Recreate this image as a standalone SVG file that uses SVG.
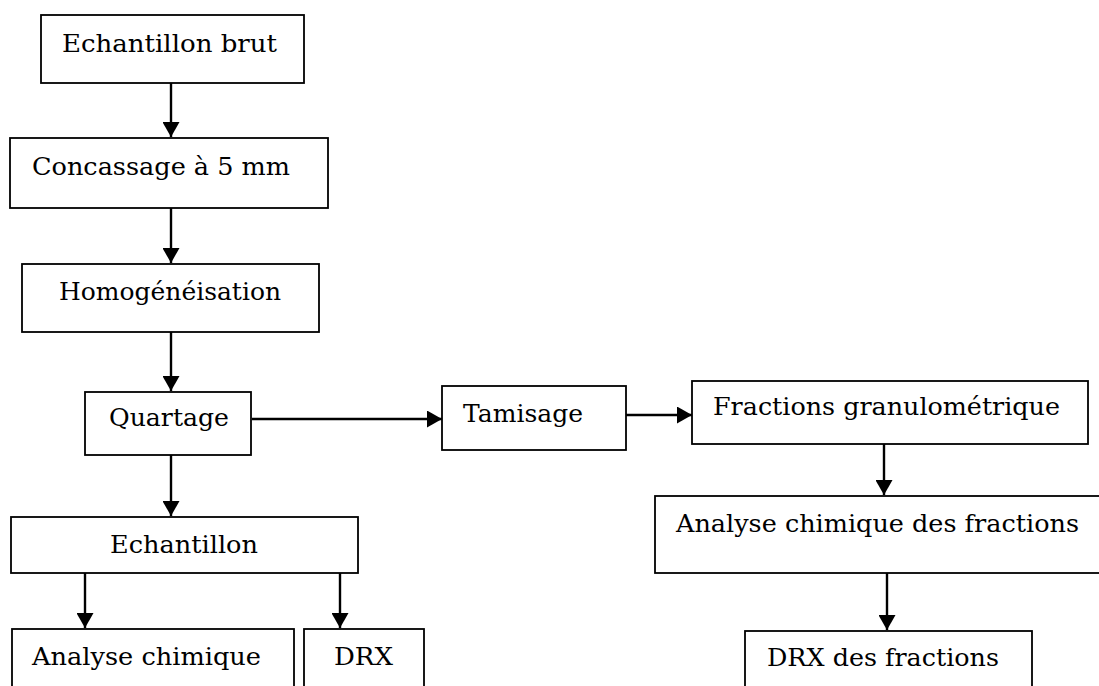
<svg xmlns="http://www.w3.org/2000/svg" width="1099" height="686" viewBox="0 0 1099 686">
<style>
.box{fill:#fff;stroke:#000;stroke-width:1.8}
.lbl{font-family:"DejaVu Serif","Liberation Serif",serif;font-size:25px;fill:#000}
.con{stroke:#000;stroke-width:2.4;fill:none;marker-end:url(#ah)}
</style>
<defs>
<marker id="ah" markerUnits="userSpaceOnUse" markerWidth="17" markerHeight="17" refX="15" refY="8.5" orient="auto">
<path d="M0,0 L15,8.5 L0,17 Z" fill="#000"/>
</marker>
</defs>
<rect width="1099" height="686" fill="#fff"/>
<g id="connectors">
<line class="con" x1="171" y1="83" x2="171" y2="137"/>
<line class="con" x1="171" y1="208" x2="171" y2="263"/>
<line class="con" x1="171" y1="332" x2="171" y2="391"/>
<line class="con" x1="171" y1="455" x2="171" y2="516"/>
<line class="con" x1="85" y1="573" x2="85" y2="628"/>
<line class="con" x1="340" y1="573" x2="340" y2="628"/>
<line class="con" x1="252" y1="419" x2="442" y2="419"/>
<line class="con" x1="626" y1="415" x2="692" y2="415"/>
<line class="con" x1="884" y1="444" x2="884" y2="495"/>
<line class="con" x1="887" y1="573" x2="887" y2="630"/>
</g>
<g id="n1"><rect class="box" x="41" y="15" width="263" height="68"/><text class="lbl" x="62" y="52" textLength="215" lengthAdjust="spacingAndGlyphs">Echantillon brut</text></g>
<g id="n2"><rect class="box" x="10" y="138" width="318" height="70"/><text class="lbl" x="32" y="175" textLength="258" lengthAdjust="spacingAndGlyphs">Concassage à 5 mm</text></g>
<g id="n3"><rect class="box" x="22" y="264" width="297" height="68"/><text class="lbl" x="59" y="300" textLength="222" lengthAdjust="spacingAndGlyphs">Homogénéisation</text></g>
<g id="n4"><rect class="box" x="85" y="392" width="166" height="63"/><text class="lbl" x="109" y="426" textLength="120" lengthAdjust="spacingAndGlyphs">Quartage</text></g>
<g id="n5"><rect class="box" x="442" y="386" width="184" height="64"/><text class="lbl" x="463" y="422" textLength="120" lengthAdjust="spacingAndGlyphs">Tamisage</text></g>
<g id="n6"><rect class="box" x="692" y="381" width="396" height="63"/><text class="lbl" x="713" y="415" textLength="347" lengthAdjust="spacingAndGlyphs">Fractions granulométrique</text></g>
<g id="n7"><rect class="box" x="11" y="517" width="347" height="56"/><text class="lbl" x="110" y="553" textLength="148" lengthAdjust="spacingAndGlyphs">Echantillon</text></g>
<g id="n8"><rect class="box" x="12" y="629" width="282" height="70"/><text class="lbl" x="32" y="665" textLength="229" lengthAdjust="spacingAndGlyphs">Analyse chimique</text></g>
<g id="n9"><rect class="box" x="304" y="629" width="120" height="70"/><text class="lbl" x="334" y="665" textLength="59" lengthAdjust="spacingAndGlyphs">DRX</text></g>
<g id="n10"><rect class="box" x="655" y="496" width="460" height="77"/><text class="lbl" x="676" y="532" textLength="403" lengthAdjust="spacingAndGlyphs">Analyse chimique des fractions</text></g>
<g id="n11"><rect class="box" x="745" y="631" width="287" height="70"/><text class="lbl" x="767" y="666" textLength="232" lengthAdjust="spacingAndGlyphs">DRX des fractions</text></g>
</svg>
